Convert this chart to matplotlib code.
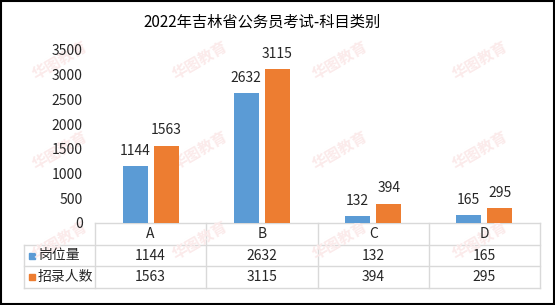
import matplotlib
matplotlib.use("Agg")
import matplotlib.pyplot as plt
import numpy as np
from matplotlib.patches import Rectangle

plt.rcParams["font.family"] = ["Noto Sans CJK SC", "DejaVu Sans"]

title = "2022年吉林省公务员考试-科目类别"
categories = ["A", "B", "C", "D"]
series_names = ["岗位量", "招录人数"]
posts = [1144, 2632, 132, 165]
recruits = [1563, 3115, 394, 295]
yticks = [0, 500, 1000, 1500, 2000, 2500, 3000, 3500]

BLUE = "#5B9BD5"
ORANGE = "#ED7D31"
GRID = "#D9D9D9"
TXT = "#262626"

W, H = 555, 305
fig = plt.figure(figsize=(W / 100, H / 100), dpi=100)

# plot area in pixels
left, right, top, bottom = 95, 540, 50, 223
ax = fig.add_axes([left / W, 1 - bottom / H, (right - left) / W, (bottom - top) / H])

x = np.arange(len(categories))
bw = 0.225
off = 0.14
b1 = ax.bar(x - off, posts, bw, color=BLUE, zorder=3)
b2 = ax.bar(x + off, recruits, bw, color=ORANGE, zorder=3)
for bars in (b1, b2):
    for rect in bars:
        ax.annotate(f"{int(rect.get_height())}",
                    (rect.get_x() + rect.get_width() / 2, rect.get_height()),
                    xytext=(0, 6), textcoords="offset points",
                    ha="center", va="bottom", fontsize=10, color=TXT)

ax.set_xlim(-0.5, len(categories) - 0.5)
ax.set_ylim(0, 3500)
ax.set_yticks(yticks)
ax.set_xticks([])
ax.tick_params(axis="y", length=0, pad=9, labelsize=10, labelcolor=TXT)
for s in ax.spines.values():
    s.set_visible(False)
ax.patch.set_alpha(0)

# overlay in pixel coordinates for title, table and border
ov = fig.add_axes([0, 0, 1, 1], zorder=-1)
ov.set_xlim(0, W)
ov.set_ylim(H, 0)
ov.axis("off")

# faint watermark, kept inside the frame
for wy in (60, 150, 240):
    for wx in (60, 200, 340, 480):
        ov.text(wx, wy, "华图教育", rotation=30, fontsize=11,
                color="#FBEAEA", ha="center", va="center", fontweight="bold")

ov.text(262, 22, title, ha="center", va="center", fontsize=11, color="black")

col_w = (right - left) / len(categories)
r0, r1, r2, r3 = 223, 245, 266, 288
tleft = 24
lw = 1.0
ov.plot([left, right], [r0, r0], color=GRID, lw=lw)
for yy in (r1, r2, r3):
    ov.plot([tleft, right], [yy, yy], color=GRID, lw=lw)
ov.plot([tleft, tleft], [r1, r3], color=GRID, lw=lw)
for k in range(len(categories) + 1):
    xx = left + k * col_w
    ov.plot([xx, xx], [r0, r3], color=GRID, lw=lw)

for k, cat in enumerate(categories):
    cx = left + (k + 0.5) * col_w
    ov.text(cx, (r0 + r1) / 2, cat, ha="center", va="center", fontsize=10, color=TXT)
    ov.text(cx, (r1 + r2) / 2, str(posts[k]), ha="center", va="center", fontsize=10, color=TXT)
    ov.text(cx, (r2 + r3) / 2, str(recruits[k]), ha="center", va="center", fontsize=10, color=TXT)

for (ya, yb), name, col in zip([(r1, r2), (r2, r3)], series_names, [BLUE, ORANGE]):
    yc = (ya + yb) / 2
    ov.add_patch(Rectangle((29, yc - 3), 6, 6, color=col))
    ov.text(38, yc, name, ha="left", va="center", fontsize=10, color=TXT)

ov.add_patch(Rectangle((1, 1), W - 2, H - 2, fill=False, edgecolor="black", lw=1.5))

fig.savefig("out.png", dpi=100)
